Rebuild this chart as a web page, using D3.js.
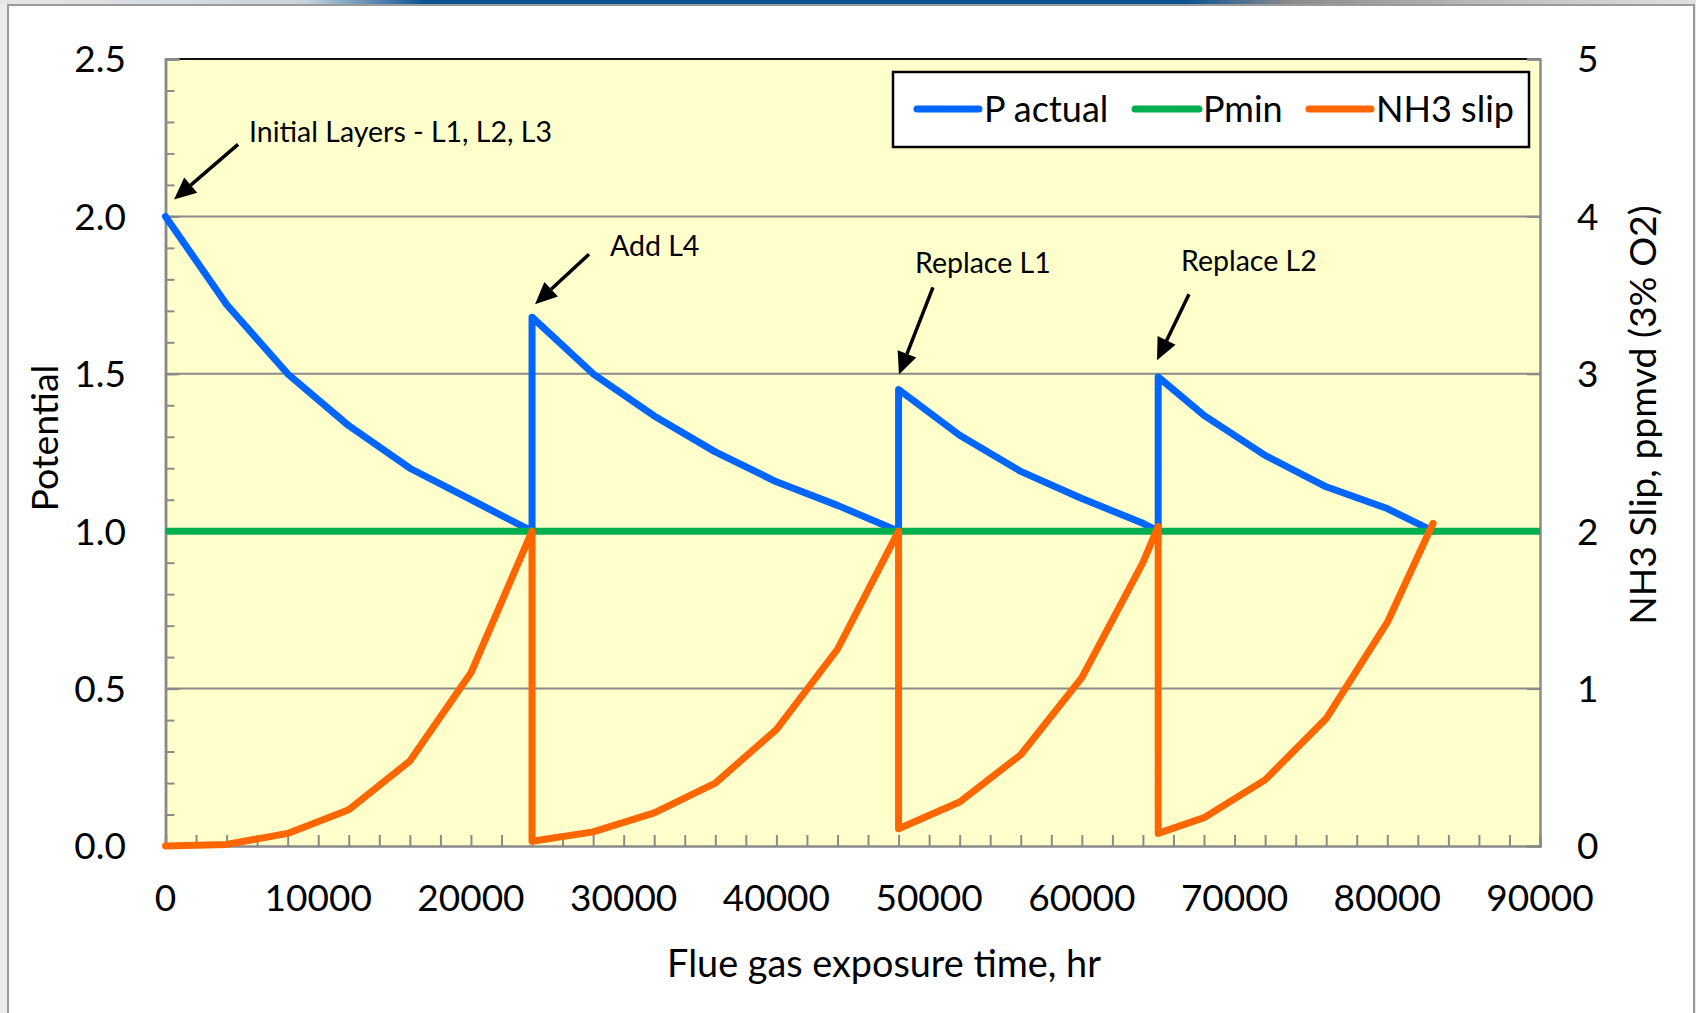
<!DOCTYPE html>
<html>
<head>
<meta charset="utf-8">
<script src="https://cdn.jsdelivr.net/npm/d3@7/dist/d3.min.js"></script>
<style>
  html, body { margin: 0; padding: 0; background: #ebebeb; }
  svg { display: block; }
  text { font-family: Lato, "Open Sans", sans-serif; fill: #000; }
</style>
</head>
<body>
<svg id="chart" width="1696" height="1013"></svg>
<script>
// ---------- DATA ----------
const pActualX = [0, 2000, 4000, 8000, 12000, 16000, 20000, 24000,
                  24000, 28000, 32000, 36000, 40000, 44000, 48000,
                  48000, 52000, 56000, 60000, 64000, 65000,
                  65000, 68000, 72000, 76000, 80000, 83000];
const pActualY = [2.0, 1.86, 1.72, 1.50, 1.335, 1.20, 1.10, 1.0,
                  1.68, 1.50, 1.366, 1.252, 1.157, 1.082, 1.0,
                  1.45, 1.305, 1.19, 1.104, 1.025, 1.0,
                  1.49, 1.368, 1.241, 1.141, 1.072, 1.0];

const pMinX = [0, 90000];
const pMinY = [1.0, 1.0];

const nh3X = [0, 4000, 8000, 12000, 16000, 20000, 24000,
              24000, 28000, 32000, 36000, 40000, 44000, 48000,
              48000, 52000, 56000, 60000, 64000, 65000,
              65000, 68000, 72000, 76000, 80000, 83000];
const nh3Y = [0, 0.01, 0.08, 0.23, 0.54, 1.10, 2.0,
              0.03, 0.09, 0.21, 0.40, 0.74, 1.25, 2.0,
              0.11, 0.28, 0.58, 1.07, 1.80, 2.03,
              0.08, 0.18, 0.42, 0.81, 1.42, 2.05];

const xTicks = [0, 10000, 20000, 30000, 40000, 50000, 60000, 70000, 80000, 90000];
const yLeftTicks = [0.0, 0.5, 1.0, 1.5, 2.0, 2.5];
const yRightTicks = [0, 1, 2, 3, 4, 5];

const seriesNames = ["P actual", "Pmin", "NH3 slip"];
const seriesColors = ["#0066FF", "#00B050", "#FF6600"];

const annotations = [
  { text: "Initial Layers - L1, L2, L3", x: 560,   y: 2.054 },
  { text: "Add L4",                      x: 24195, y: 1.721 },
  { text: "Replace L1",                  x: 48026, y: 1.498 },
  { text: "Replace L2",                  x: 64922, y: 1.543 }
];
// layout offsets for annotations (pixels, relative to arrow tip)
const annLayout = [
  { tail: [64, -55], label: [75, -57.5] },
  { tail: [54, -50], label: [75, -48.5] },
  { tail: [34, -87], label: [16, -101] },
  { tail: [32, -66], label: [24, -89.5] }
];

// ---------- LAYOUT ----------
const W = 1696, H = 1013;
const plot = { left: 165.5, right: 1540, top: 59, bottom: 846 };

const svg = d3.select("#chart");

// slide background / frame
const defs = svg.append("defs");
const grad = defs.append("linearGradient").attr("id", "topStrip")
  .attr("x1", "0%").attr("x2", "100%").attr("y1", "0%").attr("y2", "0%");
grad.append("stop").attr("offset", "0%").attr("stop-color", "#e6e6e6");
grad.append("stop").attr("offset", "18%").attr("stop-color", "#c9d3dc");
grad.append("stop").attr("offset", "25%").attr("stop-color", "#0b5494");
grad.append("stop").attr("offset", "70%").attr("stop-color", "#0b5494");
grad.append("stop").attr("offset", "76%").attr("stop-color", "#8a8a8a");
grad.append("stop").attr("offset", "88%").attr("stop-color", "#bdbdbd");
grad.append("stop").attr("offset", "100%").attr("stop-color", "#e0e0e0");

svg.append("rect").attr("x", 0).attr("y", 0).attr("width", W).attr("height", H).attr("fill", "#ebebeb");
svg.append("rect").attr("x", 0).attr("y", 0).attr("width", W).attr("height", 4).attr("fill", "url(#topStrip)");
svg.append("rect").attr("x", 8).attr("y", 5).attr("width", 1686).attr("height", H + 10)
  .attr("fill", "#ffffff").attr("stroke", "#9a9a9a").attr("stroke-width", 2);

// scales
const x = d3.scaleLinear().domain([0, 90000]).range([plot.left, plot.right]);
const yL = d3.scaleLinear().domain([0, 2.5]).range([plot.bottom, plot.top]);
const yR = d3.scaleLinear().domain([0, 5]).range([plot.bottom, plot.top]);

// plot background
svg.append("rect")
  .attr("x", plot.left).attr("y", plot.top)
  .attr("width", plot.right - plot.left).attr("height", plot.bottom - plot.top)
  .attr("fill", "#FFFFCC");

// gridlines
svg.append("g").selectAll("line").data(yLeftTicks.filter(d => d > 0 && d < 2.5)).join("line")
  .attr("x1", plot.left).attr("x2", plot.right)
  .attr("y1", d => yL(d)).attr("y2", d => yL(d))
  .attr("stroke", "#8a8a8a").attr("stroke-width", 2);

// top border (black)
svg.append("line").attr("x1", plot.left).attr("x2", plot.right)
  .attr("y1", plot.top).attr("y2", plot.top)
  .attr("stroke", "#111").attr("stroke-width", 2);

// axes
const axisColor = "#8a8a8a";
const leftAxis = svg.append("g").attr("transform", `translate(${plot.left},0)`)
  .call(d3.axisRight(yL).ticks(25).tickSize(9).tickFormat(""));
const leftMajor = svg.append("g").attr("transform", `translate(${plot.left},0)`)
  .call(d3.axisRight(yL).tickValues(yLeftTicks).tickSize(14).tickFormat(""));
const bottomAxis = svg.append("g").attr("transform", `translate(0,${plot.bottom})`)
  .call(d3.axisTop(x).ticks(45).tickSize(11).tickFormat(""));
const rightAxis = svg.append("g").attr("transform", `translate(${plot.right},0)`)
  .call(d3.axisLeft(yR).tickValues(yRightTicks).tickSize(13).tickFormat(""));
[leftAxis, leftMajor, bottomAxis, rightAxis].forEach(g => {
  g.selectAll("path.domain").attr("stroke", axisColor).attr("stroke-width", 2.5);
  g.selectAll(".tick line").attr("stroke", axisColor).attr("stroke-width", 2);
});
bottomAxis.selectAll(".tick line").filter(d => d === 0 || d === 90000).remove();

// tick labels
const tickFont = 37;
svg.append("g").selectAll("text").data(yLeftTicks).join("text")
  .attr("x", 126).attr("y", d => yL(d)).attr("dy", "0.36em")
  .attr("text-anchor", "end").attr("font-size", tickFont)
  .text(d => d3.format(".1f")(d));
svg.append("g").selectAll("text").data(yRightTicks).join("text")
  .attr("x", 1577).attr("y", d => yR(d)).attr("dy", "0.36em")
  .attr("text-anchor", "start").attr("font-size", tickFont)
  .text(d => d);
svg.append("g").selectAll("text").data(xTicks).join("text")
  .attr("x", d => x(d)).attr("y", 898).attr("dy", "0.36em")
  .attr("text-anchor", "middle").attr("font-size", tickFont)
  .text(d => d);

// axis titles
svg.append("text").attr("x", 884).attr("y", 977).attr("text-anchor", "middle")
  .attr("font-size", 37.8).text("Flue gas exposure time, hr");
svg.append("text").attr("transform", "translate(58,438) rotate(-90)")
  .attr("text-anchor", "middle").attr("font-size", 37.5).text("Potential");
svg.append("text").attr("transform", "translate(1656,415) rotate(-90)")
  .attr("text-anchor", "middle").attr("font-size", 37.4).text("NH3 Slip, ppmvd (3% O2)");

// series lines
const lineL = d3.line().x(d => x(d[0])).y(d => yL(d[1]));
const lineR = d3.line().x(d => x(d[0])).y(d => yR(d[1]));
const sw = 7;
svg.append("path").datum(d3.zip(pActualX, pActualY)).attr("d", lineL)
  .attr("fill", "none").attr("stroke", seriesColors[0]).attr("stroke-width", sw)
  .attr("stroke-linejoin", "round").attr("stroke-linecap", "round");
svg.append("path").datum(d3.zip(pMinX, pMinY)).attr("d", lineL)
  .attr("fill", "none").attr("stroke", seriesColors[1]).attr("stroke-width", sw)
  .attr("stroke-linejoin", "round").attr("stroke-linecap", "butt");
svg.append("path").datum(d3.zip(nh3X, nh3Y)).attr("d", lineR)
  .attr("fill", "none").attr("stroke", seriesColors[2]).attr("stroke-width", sw)
  .attr("stroke-linejoin", "round").attr("stroke-linecap", "round");

// annotations with arrows
const annG = svg.append("g");
annotations.forEach((a, i) => {
  const tx = x(a.x), ty = yL(a.y);
  const L = annLayout[i];
  const sx = tx + L.tail[0], sy = ty + L.tail[1];
  const ang = Math.atan2(ty - sy, tx - sx);
  const headLen = 22, headW = 10;
  const bx = tx - headLen * Math.cos(ang), by = ty - headLen * Math.sin(ang);
  annG.append("line").attr("x1", sx).attr("y1", sy).attr("x2", bx).attr("y2", by)
    .attr("stroke", "#000").attr("stroke-width", 3.5);
  const px = -Math.sin(ang), py = Math.cos(ang);
  annG.append("polygon")
    .attr("points", [[tx, ty], [bx + px * headW, by + py * headW], [bx - px * headW, by - py * headW]].map(p => p.join(",")).join(" "))
    .attr("fill", "#000");
  annG.append("text").attr("x", tx + L.label[0]).attr("y", ty + L.label[1])
    .attr("font-size", 28.5).text(a.text);
});

// legend
const lg = svg.append("g");
lg.append("rect").attr("x", 893).attr("y", 72).attr("width", 636).attr("height", 75)
  .attr("fill", "#fff").attr("stroke", "#000").attr("stroke-width", 2.5);
const legendItems = [
  { x1: 917, x2: 979, tx: 984 },
  { x1: 1135, x2: 1199, tx: 1203 },
  { x1: 1309, x2: 1371, tx: 1376 }
];
seriesNames.forEach((n, i) => {
  const it = legendItems[i];
  lg.append("line").attr("x1", it.x1).attr("x2", it.x2).attr("y1", 109).attr("y2", 109)
    .attr("stroke", seriesColors[i]).attr("stroke-width", 7).attr("stroke-linecap", "round");
  lg.append("text").attr("x", it.tx).attr("y", 121.5).attr("font-size", 36).text(n);
});
</script>
</body>
</html>
